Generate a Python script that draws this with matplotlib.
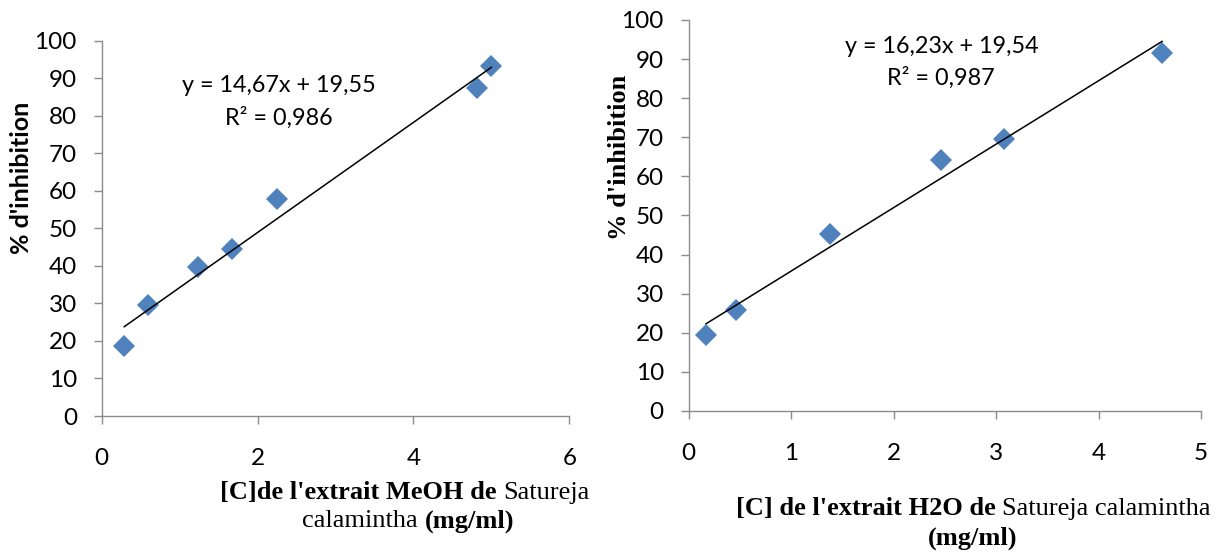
import numpy as np
import matplotlib
matplotlib.use("Agg")
import matplotlib.pyplot as plt
from matplotlib.offsetbox import TextArea, HPacker, AnnotationBbox

# data
meoh_conc = [0.29, 0.59, 1.24, 1.67, 2.25, 4.82, 5.0]
meoh_inhib = [18.7, 29.7, 39.7, 44.5, 57.8, 87.5, 93.2]
meoh_fit = (14.67, 19.55)
meoh_r2 = "0,986"

h2o_conc = [0.17, 0.46, 1.38, 2.46, 3.08, 4.62]
h2o_inhib = [19.5, 25.9, 45.2, 64.1, 69.6, 91.6]
h2o_fit = (16.23, 19.54)
h2o_r2 = "0,987"

yticks = [0, 10, 20, 30, 40, 50, 60, 70, 80, 90, 100]
meoh_xticks = [0, 2, 4, 6]
h2o_xticks = [0, 1, 2, 3, 4, 5]

BLUE = "#4F81BD"
GRAY = "#8C8C8C"
SANS = "Lato"
SERIF = "Liberation Serif"

W, H = 1232, 553
fig = plt.figure(figsize=(W / 100, H / 100), dpi=100)


def px(x, y):
    return x / W, 1 - y / H


def fmt(v):
    return f"{v:.2f}".replace(".", ",")


def setup_axes(rect, xmax, xticks):
    ax = fig.add_axes(rect)
    ax.set_xlim(0, xmax)
    ax.set_ylim(0, 100)
    ax.set_xticks(xticks)
    ax.set_yticks(yticks)
    for s in ("top", "right"):
        ax.spines[s].set_visible(False)
    for s in ("left", "bottom"):
        ax.spines[s].set_color(GRAY)
        ax.spines[s].set_linewidth(1.0)
    ax.tick_params(axis="y", direction="out", length=5.8, width=1.0,
                   color=GRAY, pad=12, labelsize=17.5)
    ax.tick_params(axis="x", direction="out", length=5.8, width=1.0,
                   color=GRAY, pad=17, labelsize=17.5)
    for lab in ax.get_xticklabels() + ax.get_yticklabels():
        lab.set_family(SANS)
    return ax


def plot_series(ax, xs, ys, fit):
    xs = np.array(xs)
    a, b = fit
    xf = np.array([xs.min(), xs.max()])
    ax.plot(xf, a * xf + b, color="black", lw=1.1, zorder=3)
    ax.plot(xs, ys, ls="none", marker="D", ms=11, color=BLUE,
            mec=BLUE, mew=0, zorder=2, clip_on=False)


def mixed_line(pieces, x, y, size=19):
    boxes = []
    for txt, weight in pieces:
        boxes.append(TextArea(txt, textprops=dict(family=SERIF, weight=weight,
                                                  size=size, color="black")))
    pack = HPacker(children=boxes, pad=0, sep=4.8, align="baseline")
    ab = AnnotationBbox(pack, px(x, y), xycoords="figure fraction",
                        frameon=False, box_alignment=(0.5, 0.5), pad=0)
    fig.add_artist(ab)


# left panel: MeOH extract
ax1 = setup_axes([0.0825, 0.2477, 0.3796, 0.6787], 6, meoh_xticks)
plot_series(ax1, meoh_conc, meoh_inhib, meoh_fit)

fig.text(*px(279, 86), f"y = {fmt(meoh_fit[0])}x + {fmt(meoh_fit[1])}",
         family=SANS, size=16.8, ha="center", va="center")
fig.text(*px(279, 118), "R² = " + meoh_r2, family=SANS, size=16.8,
         ha="center", va="center")

fig.text(*px(22, 178), "% d'inhibition", family=SANS, weight="bold",
         size=18, rotation=90, ha="center", va="center")

mixed_line([("[C]de l'extrait MeOH de", "bold"), ("Satureja", "normal")], 405, 492)
mixed_line([("calamintha", "normal"), ("(mg/ml)", "bold")], 408, 521)

# right panel: H2O extract
ax2 = setup_axes([0.5589, 0.2568, 0.4160, 0.7071], 5, h2o_xticks)
plot_series(ax2, h2o_conc, h2o_inhib, h2o_fit)

fig.text(*px(942, 47), f"y = {fmt(h2o_fit[0])}x + {fmt(h2o_fit[1])}",
         family=SANS, size=16.8, ha="center", va="center")
fig.text(*px(941, 78), "R² = " + h2o_r2, family=SANS, size=16.8,
         ha="center", va="center")

fig.text(*px(620, 157), "% d'inhibition", family=SERIF, weight="bold",
         size=19, rotation=90, ha="center", va="center")

mixed_line([("[C] de l'extrait H2O de", "bold"), ("Satureja calamintha", "normal")], 973, 508)
mixed_line([("(mg/ml)", "bold")], 973, 538)

fig.savefig("out.png", dpi=100)
